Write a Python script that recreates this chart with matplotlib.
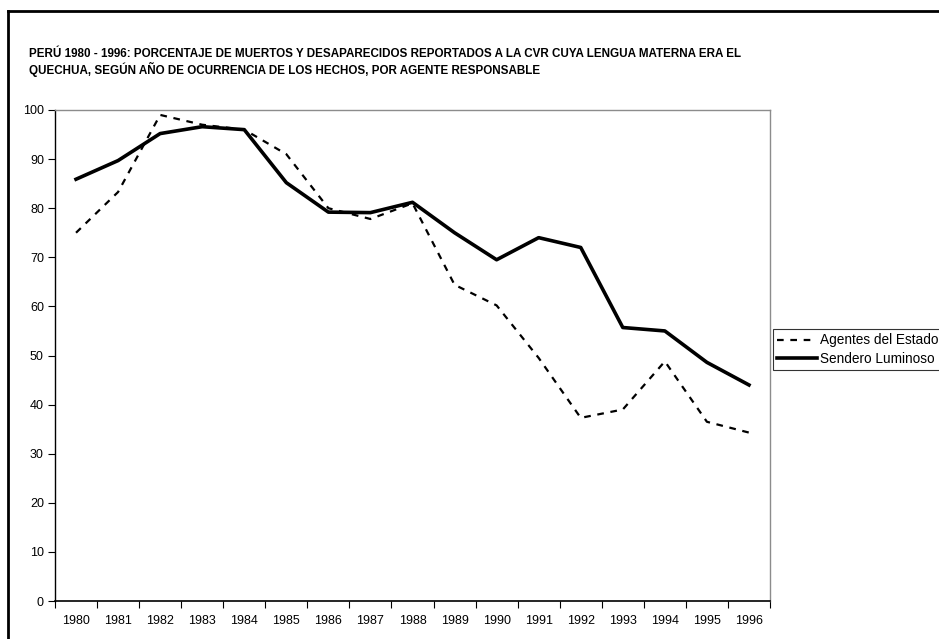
import matplotlib.pyplot as plt
from matplotlib.lines import Line2D

plt.rcParams['font.family'] = ['Liberation Sans', 'DejaVu Sans']

# data
years = ['1980', '1981', '1982', '1983', '1984', '1985', '1986', '1987', '1988',
         '1989', '1990', '1991', '1992', '1993', '1994', '1995', '1996']
agentes = [75.0, 83.3, 99.0, 97.0, 96.0, 91.0, 80.0, 77.8, 81.0,
           64.4, 60.2, 49.5, 37.3, 39.0, 48.8, 36.5, 34.3]
sendero = [85.9, 89.7, 95.2, 96.6, 96.0, 85.2, 79.2, 79.1, 81.2,
           75.0, 69.5, 74.0, 72.0, 55.7, 55.0, 48.6, 44.0]

title = ('PERÚ 1980 - 1996: PORCENTAJE DE MUERTOS Y DESAPARECIDOS REPORTADOS A LA CVR CUYA LENGUA MATERNA ERA EL\n'
         'QUECHUA, SEGÚN AÑO DE OCURRENCIA DE LOS HECHOS, POR AGENTE RESPONSABLE')

fig = plt.figure(figsize=(9.39, 6.39), dpi=100)
W, H = 939, 639
ax = fig.add_axes([55 / W, 1 - 601 / H, 715 / W, 491 / H])

x = list(range(len(years)))
ax.plot(x, agentes, color='black', lw=1.6, ls=(0, (3, 3)), label='Agentes del Estado')
ax.plot(x, sendero, color='black', lw=2.6, label='Sendero Luminoso')

ax.set_xlim(-0.5, len(years) - 0.5)
ax.set_ylim(0, 100)
ax.set_yticks(range(0, 101, 10))
ax.tick_params(axis='y', labelsize=9, length=5, width=0.8, pad=3)
ax.set_xticks(x)
ax.set_xticklabels(years)
ax.set_xticks([i - 0.5 for i in range(len(years) + 1)], minor=True)
ax.tick_params(axis='x', which='major', length=0, labelsize=9, pad=10)
ax.tick_params(axis='x', which='minor', length=5, width=0.8)

for side in ['top', 'right']:
    ax.spines[side].set_color('#8c8c8c')
    ax.spines[side].set_linewidth(1)
ax.spines['left'].set_linewidth(1)
ax.spines['bottom'].set_linewidth(1.2)

fig.text(29 / W, 1 - 62.5 / H, title, fontsize=8.4, fontweight='bold',
         va='center', linespacing=1.2)

# outer frame (cut off on the right and bottom)
fig.add_artist(Line2D([8 / W, 8 / W], [0, 1 - 11 / H], color='black', lw=2,
                      transform=fig.transFigure))
fig.add_artist(Line2D([8 / W, 1], [1 - 11 / H, 1 - 11 / H], color='black', lw=2,
                      transform=fig.transFigure))

leg = fig.legend(loc='upper left', bbox_to_anchor=(773 / W, 1 - 329 / H),
                 fontsize=9.8, frameon=True, fancybox=False, edgecolor='black',
                 handlelength=2.9, handletextpad=0.2, borderpad=0.33,
                 labelspacing=0.3, borderaxespad=0)
leg.get_frame().set_linewidth(0.8)

fig.savefig('out.png', dpi=100)
